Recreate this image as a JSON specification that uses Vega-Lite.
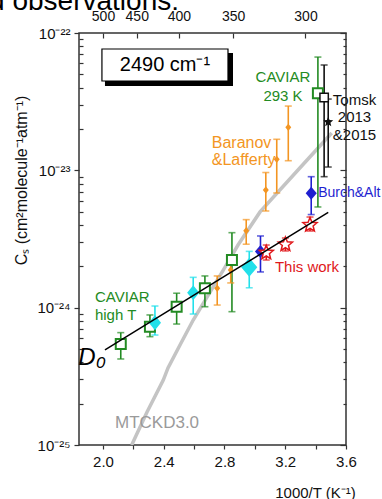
{
 "$schema": "https://vega.github.io/schema/vega-lite/v6.json",
 "width": 267, "height": 412,
 "autosize": {"type": "none"},
 "padding": {"left": 79, "top": 33, "right": 36, "bottom": 54},
 "config": {
  "font": "Liberation Sans",
  "view": {"stroke": "#333", "strokeWidth": 1.5},
  "axis": {"grid": false, "domain": false, "tickColor": "#333", "tickWidth": 1.2, "labelColor": "#111", "titleColor": "#111", "labelFont": "Liberation Sans", "titleFont": "Liberation Sans", "titleFontWeight": "normal", "labelFlush": false, "labelOverlap": false}
 },
 "datasets": {
  "mtckd": [
   {"x": 2.189, "y": 1.0e-25}, {"x": 2.29, "y": 1.74e-25}, {"x": 2.397, "y": 2.97e-25}, {"x": 2.428, "y": 3.64e-25},
   {"x": 2.507, "y": 5.35e-25}, {"x": 2.594, "y": 8.13e-25}, {"x": 2.792, "y": 1.879e-24}, {"x": 2.889, "y": 2.858e-24},
   {"x": 3.034, "y": 4.98e-24}, {"x": 3.284, "y": 1.005e-23}, {"x": 3.506, "y": 1.871e-23}
  ],
  "d0": [{"x": 2.013, "y": 4.92e-25}, {"x": 3.483, "y": 4.94e-24}],
  "pts": [
   {"series": "CAVIAR", "x": 2.117, "y": 5.43e-25, "lo": 4.23e-25, "hi": 6.58e-25},
   {"series": "CAVIAR", "x": 2.309, "y": 7.26e-25, "lo": 6.15e-25, "hi": 8.85e-25},
   {"series": "CAVIAR", "x": 2.485, "y": 1.016e-24, "lo": 7.60e-25, "hi": 1.274e-24},
   {"series": "CAVIAR", "x": 2.671, "y": 1.384e-24, "lo": 1.016e-24, "hi": 1.702e-24},
   {"series": "CAVIAR", "x": 2.849, "y": 2.223e-24, "lo": 9.35e-25, "hi": 3.516e-24},
   {"series": "CAVIAR", "x": 3.415, "y": 3.64e-23, "lo": 5.41e-24, "hi": 6.68e-23},
   {"series": "Cyan A", "x": 2.342, "y": 7.78e-25, "lo": 6.32e-25, "hi": 1.028e-24},
   {"series": "Cyan A", "x": 2.594, "y": 1.285e-24, "lo": 8.99e-25, "hi": 1.663e-24},
   {"series": "Cyan B", "x": 2.963, "y": 1.968e-24, "lo": 1.396e-24, "hi": 2.570e-24},
   {"series": "Baranov&Lafferty", "x": 2.752, "y": 1.384e-24, "lo": 1.045e-24, "hi": 1.702e-24},
   {"series": "Baranov&Lafferty", "x": 2.841, "y": 1.879e-24, "lo": 1.514e-24, "hi": 2.301e-24},
   {"series": "Baranov&Lafferty", "x": 2.943, "y": 3.631e-24, "lo": 2.897e-24, "hi": 4.375e-24},
   {"series": "Baranov&Lafferty", "x": 3.072, "y": 7.194e-24, "lo": 5.058e-24, "hi": 9.64e-24},
   {"series": "Baranov&Lafferty", "x": 3.144, "y": 1.202e-23, "lo": 6.84e-24, "hi": 1.683e-23},
   {"series": "Baranov&Lafferty", "x": 3.220, "y": 2.056e-23, "lo": 1.175e-23, "hi": 2.938e-23},
   {"series": "Burch&Alt", "x": 3.037, "y": 2.564e-24, "lo": 1.820e-24, "hi": 3.327e-24},
   {"series": "Burch&Alt", "x": 3.371, "y": 6.81e-24, "lo": 4.764e-24, "hi": 8.99e-24},
   {"series": "This work", "x": 3.075, "y": 2.512e-24, "lo": 2.223e-24, "hi": 2.858e-24},
   {"series": "This work", "x": 3.201, "y": 2.884e-24, "lo": 2.588e-24, "hi": 3.214e-24},
   {"series": "This work", "x": 3.363, "y": 3.999e-24, "lo": 3.614e-24, "hi": 4.571e-24},
   {"series": "Tomsk 2013", "x": 3.456, "y": 3.388e-23, "lo": 8.99e-24, "hi": 5.848e-23},
   {"series": "Tomsk 2015", "x": 3.483, "y": 2.249e-23, "lo": 1.057e-23, "hi": 3.304e-23}
  ],
  "shadow": [{"x1": 2.013, "x2": 2.856, "y1": 4.11e-23, "y2": 7.14e-23}],
  "box": [{"x1": 1.993, "x2": 2.823, "y1": 4.47e-23, "y2": 7.65e-23, "x": 2.408, "y": 5.85e-23, "text": "2490 cm⁻¹"}],
  "headline": [{"text": "and observations:", "x": 1.045, "y": 1.47e-22}],
  "labels14": [
   {"text": "CAVIAR", "series": "CAVIAR", "x": 1.947, "y": 1.197e-24},
   {"text": "high T", "series": "CAVIAR", "x": 1.947, "y": 8.85e-25},
   {"text": "This work", "series": "This work", "x": 3.132, "y": 1.986e-24}
  ],
  "labels15": [
   {"text": "Baranov", "series": "Baranov&Lafferty", "x": 2.716, "y": 1.589e-23},
   {"text": "&Lafferty", "series": "Baranov&Lafferty", "x": 2.716, "y": 1.189e-23}
  ],
  "labels13": [
   {"text": "Burch&Alt", "series": "Burch&Alt", "x": 3.417, "y": 6.81e-24}
  ],
  "labels17": [
   {"text": "MTCKD3.0", "series": "MTCKD3.0", "x": 2.079, "y": 1.435e-25}
  ],
  "labelsC": [
   {"text": "CAVIAR", "series": "CAVIAR", "x": 3.185, "y": 4.81e-23},
   {"text": "293 K", "series": "CAVIAR", "x": 3.185, "y": 3.49e-23},
   {"text": "Tomsk", "series": "Tomsk 2013", "x": 3.656, "y": 3.25e-23},
   {"text": "2013", "series": "Tomsk 2013", "x": 3.656, "y": 2.43e-23},
   {"text": "&2015", "series": "Tomsk 2013", "x": 3.656, "y": 1.807e-23}
  ],
  "d0label": [{"text": "D₀", "x": 1.928, "y": 4.30e-25}]
 },
 "resolve": {"axis": {"x": "independent", "y": "independent"}},
 "layer": [
  {
   "data": {"name": "mtckd"},
   "mark": {"type": "line", "stroke": "#c4c4c4", "strokeWidth": 3.5, "clip": true},
   "encoding": {
    "x": {"field": "x", "type": "quantitative", "scale": {"domain": [1.842, 3.6], "nice": false, "zero": false},
     "axis": {"orient": "bottom", "values": [2.0, 2.2, 2.4, 2.6, 2.8, 3.0, 3.2, 3.4, 3.6], "labelExpr": "round(datum.value*10) % 4 == 0 ? format(datum.value,'.1f') : ''", "tickSize": 4, "labelPadding": 5, "labelFontSize": 15, "title": "1000/T (K⁻¹)", "titleFontSize": 15, "titleX": 236, "titleY": 40, "titleAlign": "center", "titleBaseline": "top"}},
    "y": {"field": "y", "type": "quantitative", "scale": {"type": "log", "domain": [1e-25, 1e-22], "nice": false},
     "axis": {"orient": "left", "values": [1e-25, 1e-24, 1e-23, 1e-22], "labelExpr": "datum.value > 5e-23 ? '10⁻²²' : datum.value > 5e-24 ? '10⁻²³' : datum.value > 5e-25 ? '10⁻²⁴' : '10⁻²⁵'", "tickSize": 5, "labelPadding": 4, "labelFontSize": 15, "title": "Cₛ (cm²molecule⁻¹atm⁻¹)", "titleFontSize": 16, "titleX": -50, "titleY": 147, "titleAlign": "center"}}
   }
  },
  {
   "data": {"name": "mtckd"},
   "mark": {"type": "point", "opacity": 0},
   "encoding": {
    "x": {"field": "x", "type": "quantitative", "scale": {"domain": [1.842, 3.6], "nice": false, "zero": false},
     "axis": {"orient": "top", "values": [2.0, 2.2222, 2.5, 2.8571, 3.3333], "labelExpr": "format(1000/datum.value,'.0f')", "tickSize": -5, "labelPadding": 15, "labelFontSize": 14, "title": null}},
    "y": {"field": "y", "type": "quantitative", "scale": {"type": "log", "domain": [1e-25, 1e-22], "nice": false},
     "axis": {"orient": "left", "values": [2e-25, 3e-25, 4e-25, 5e-25, 6e-25, 7e-25, 8e-25, 9e-25, 2e-24, 3e-24, 4e-24, 5e-24, 6e-24, 7e-24, 8e-24, 9e-24, 2e-23, 3e-23, 4e-23, 5e-23, 6e-23, 7e-23, 8e-23, 9e-23], "tickSize": -4, "labels": false, "title": null}}
   }
  },
  {
   "data": {"name": "mtckd"},
   "mark": {"type": "point", "opacity": 0},
   "encoding": {
    "x": {"field": "x", "type": "quantitative", "scale": {"domain": [1.842, 3.6], "nice": false, "zero": false}, "axis": null},
    "y": {"field": "y", "type": "quantitative", "scale": {"type": "log", "domain": [1e-25, 1e-22], "nice": false},
     "axis": {"orient": "right", "values": [1e-25, 1e-24, 1e-23, 1e-22], "tickSize": -6, "labels": false, "title": null}}
   }
  },
  {
   "data": {"name": "mtckd"},
   "mark": {"type": "point", "opacity": 0},
   "encoding": {
    "x": {"field": "x", "type": "quantitative", "scale": {"domain": [1.842, 3.6], "nice": false, "zero": false}, "axis": null},
    "y": {"field": "y", "type": "quantitative", "scale": {"type": "log", "domain": [1e-25, 1e-22], "nice": false},
     "axis": {"orient": "right", "values": [2e-25, 3e-25, 4e-25, 5e-25, 6e-25, 7e-25, 8e-25, 9e-25, 2e-24, 3e-24, 4e-24, 5e-24, 6e-24, 7e-24, 8e-24, 9e-24, 2e-23, 3e-23, 4e-23, 5e-23, 6e-23, 7e-23, 8e-23, 9e-23], "tickSize": -3, "labels": false, "title": null}}
   }
  },
  {
   "data": {"name": "headline"},
   "mark": {"type": "text", "fontSize": 28, "color": "#000", "align": "left", "baseline": "alphabetic"},
   "encoding": {
    "x": {"field": "x", "type": "quantitative", "scale": {"domain": [1.842, 3.6], "nice": false, "zero": false}, "axis": null},
    "y": {"field": "y", "type": "quantitative", "scale": {"type": "log", "domain": [1e-25, 1e-22], "nice": false}, "axis": null},
    "text": {"field": "text"}
   }
  },
  {
   "data": {"name": "shadow"},
   "mark": {"type": "rect", "fill": "#000"},
   "encoding": {
    "x": {"field": "x1", "type": "quantitative", "scale": {"domain": [1.842, 3.6], "nice": false, "zero": false}, "axis": null},
    "x2": {"field": "x2"},
    "y": {"field": "y1", "type": "quantitative", "scale": {"type": "log", "domain": [1e-25, 1e-22], "nice": false}, "axis": null},
    "y2": {"field": "y2"}
   }
  },
  {
   "data": {"name": "box"},
   "mark": {"type": "rect", "fill": "#fff", "stroke": "#000", "strokeWidth": 1.2},
   "encoding": {
    "x": {"field": "x1", "type": "quantitative", "scale": {"domain": [1.842, 3.6], "nice": false, "zero": false}, "axis": null},
    "x2": {"field": "x2"},
    "y": {"field": "y1", "type": "quantitative", "scale": {"type": "log", "domain": [1e-25, 1e-22], "nice": false}, "axis": null},
    "y2": {"field": "y2"}
   }
  },
  {
   "data": {"name": "box"},
   "mark": {"type": "text", "fontSize": 20, "color": "#000", "baseline": "middle", "align": "center"},
   "encoding": {
    "x": {"field": "x", "type": "quantitative", "scale": {"domain": [1.842, 3.6], "nice": false, "zero": false}, "axis": null},
    "y": {"field": "y", "type": "quantitative", "scale": {"type": "log", "domain": [1e-25, 1e-22], "nice": false}, "axis": null},
    "text": {"field": "text"}
   }
  },
  {
   "data": {"name": "pts"},
   "mark": {"type": "rule", "strokeWidth": 1.6},
   "encoding": {
    "x": {"field": "x", "type": "quantitative", "scale": {"domain": [1.842, 3.6], "nice": false, "zero": false}, "axis": null},
    "y": {"field": "lo", "type": "quantitative", "scale": {"type": "log", "domain": [1e-25, 1e-22], "nice": false}, "axis": null},
    "y2": {"field": "hi"},
    "color": {"field": "series", "type": "nominal", "legend": null, "scale": {"domain": ["CAVIAR", "Cyan A", "Cyan B", "Baranov&Lafferty", "Burch&Alt", "This work", "Tomsk 2013", "Tomsk 2015", "MTCKD3.0"], "range": ["#238b23", "#22e0ea", "#22e0ea", "#f39522", "#1f1fd0", "#e0181b", "#111111", "#111111", "#9a9a9a"]}}
   }
  },
  {
   "data": {"name": "pts"},
   "mark": {"type": "tick", "orient": "horizontal", "size": 7, "thickness": 1.6},
   "encoding": {
    "x": {"field": "x", "type": "quantitative", "scale": {"domain": [1.842, 3.6], "nice": false, "zero": false}, "axis": null},
    "y": {"field": "lo", "type": "quantitative", "scale": {"type": "log", "domain": [1e-25, 1e-22], "nice": false}, "axis": null},
    "color": {"field": "series", "type": "nominal", "legend": null}
   }
  },
  {
   "data": {"name": "pts"},
   "mark": {"type": "tick", "orient": "horizontal", "size": 7, "thickness": 1.6},
   "encoding": {
    "x": {"field": "x", "type": "quantitative", "scale": {"domain": [1.842, 3.6], "nice": false, "zero": false}, "axis": null},
    "y": {"field": "hi", "type": "quantitative", "scale": {"type": "log", "domain": [1e-25, 1e-22], "nice": false}, "axis": null},
    "color": {"field": "series", "type": "nominal", "legend": null}
   }
  },
  {
   "data": {"name": "pts"},
   "transform": [{"filter": {"field": "series", "equal": "CAVIAR"}}],
   "mark": {"type": "point", "shape": "square", "size": 100, "filled": true, "fill": "#fff", "stroke": "#238b23", "strokeWidth": 2, "opacity": 1},
   "encoding": {
    "x": {"field": "x", "type": "quantitative", "scale": {"domain": [1.842, 3.6], "nice": false, "zero": false}, "axis": null},
    "y": {"field": "y", "type": "quantitative", "scale": {"type": "log", "domain": [1e-25, 1e-22], "nice": false}, "axis": null}
   }
  },
  {
   "data": {"name": "pts"},
   "transform": [{"filter": {"field": "series", "equal": "Cyan A"}}],
   "mark": {"type": "point", "shape": "M0,-1L0.8,0L0,1L-0.8,0Z", "size": 230, "filled": true, "fill": "#22e0ea", "strokeWidth": 0, "opacity": 1},
   "encoding": {
    "x": {"field": "x", "type": "quantitative", "scale": {"domain": [1.842, 3.6], "nice": false, "zero": false}, "axis": null},
    "y": {"field": "y", "type": "quantitative", "scale": {"type": "log", "domain": [1e-25, 1e-22], "nice": false}, "axis": null}
   }
  },
  {
   "data": {"name": "pts"},
   "transform": [{"filter": {"field": "series", "equal": "Cyan B"}}],
   "mark": {"type": "point", "shape": "M0,-1L0.85,0L0,1L-0.85,0Z", "size": 360, "filled": true, "fill": "#22e0ea", "strokeWidth": 0, "opacity": 1},
   "encoding": {
    "x": {"field": "x", "type": "quantitative", "scale": {"domain": [1.842, 3.6], "nice": false, "zero": false}, "axis": null},
    "y": {"field": "y", "type": "quantitative", "scale": {"type": "log", "domain": [1e-25, 1e-22], "nice": false}, "axis": null}
   }
  },
  {
   "data": {"name": "pts"},
   "transform": [{"filter": {"field": "series", "equal": "Baranov&Lafferty"}}],
   "mark": {"type": "point", "shape": "M0,-1L0.8,0L0,1L-0.8,0Z", "size": 55, "filled": true, "fill": "#f39522", "strokeWidth": 0, "opacity": 1},
   "encoding": {
    "x": {"field": "x", "type": "quantitative", "scale": {"domain": [1.842, 3.6], "nice": false, "zero": false}, "axis": null},
    "y": {"field": "y", "type": "quantitative", "scale": {"type": "log", "domain": [1e-25, 1e-22], "nice": false}, "axis": null}
   }
  },
  {
   "data": {"name": "pts"},
   "transform": [{"filter": {"field": "series", "equal": "Burch&Alt"}}],
   "mark": {"type": "point", "shape": "M0,-1L0.85,0L0,1L-0.85,0Z", "size": 170, "filled": true, "fill": "#1f1fd0", "strokeWidth": 0, "opacity": 1},
   "encoding": {
    "x": {"field": "x", "type": "quantitative", "scale": {"domain": [1.842, 3.6], "nice": false, "zero": false}, "axis": null},
    "y": {"field": "y", "type": "quantitative", "scale": {"type": "log", "domain": [1e-25, 1e-22], "nice": false}, "axis": null}
   }
  },
  {
   "data": {"name": "pts"},
   "transform": [{"filter": {"field": "series", "equal": "This work"}}],
   "mark": {"type": "point", "shape": "M0,-1L0.26,-0.36L0.951,-0.309L0.42,0.137L0.588,0.809L0,0.44L-0.588,0.809L-0.42,0.137L-0.951,-0.309L-0.26,-0.36Z", "size": 220, "filled": true, "fill": "#fff", "stroke": "#e0181b", "strokeWidth": 1.5, "opacity": 1},
   "encoding": {
    "x": {"field": "x", "type": "quantitative", "scale": {"domain": [1.842, 3.6], "nice": false, "zero": false}, "axis": null},
    "y": {"field": "y", "type": "quantitative", "scale": {"type": "log", "domain": [1e-25, 1e-22], "nice": false}, "axis": null}
   }
  },
  {
   "data": {"name": "pts"},
   "transform": [{"filter": {"field": "series", "equal": "Tomsk 2013"}}],
   "mark": {"type": "point", "shape": "square", "size": 70, "filled": true, "fill": "#fff", "stroke": "#111", "strokeWidth": 1.5, "opacity": 1},
   "encoding": {
    "x": {"field": "x", "type": "quantitative", "scale": {"domain": [1.842, 3.6], "nice": false, "zero": false}, "axis": null},
    "y": {"field": "y", "type": "quantitative", "scale": {"type": "log", "domain": [1e-25, 1e-22], "nice": false}, "axis": null}
   }
  },
  {
   "data": {"name": "pts"},
   "transform": [{"filter": {"field": "series", "equal": "Tomsk 2015"}}],
   "mark": {"type": "point", "shape": "M0,-1L0.26,-0.36L0.951,-0.309L0.42,0.137L0.588,0.809L0,0.44L-0.588,0.809L-0.42,0.137L-0.951,-0.309L-0.26,-0.36Z", "size": 110, "filled": true, "fill": "#111", "strokeWidth": 0, "opacity": 1},
   "encoding": {
    "x": {"field": "x", "type": "quantitative", "scale": {"domain": [1.842, 3.6], "nice": false, "zero": false}, "axis": null},
    "y": {"field": "y", "type": "quantitative", "scale": {"type": "log", "domain": [1e-25, 1e-22], "nice": false}, "axis": null}
   }
  },
  {
   "data": {"name": "d0"},
   "mark": {"type": "line", "stroke": "#000", "strokeWidth": 1.5},
   "encoding": {
    "x": {"field": "x", "type": "quantitative", "scale": {"domain": [1.842, 3.6], "nice": false, "zero": false}, "axis": null},
    "y": {"field": "y", "type": "quantitative", "scale": {"type": "log", "domain": [1e-25, 1e-22], "nice": false}, "axis": null}
   }
  },
  {
   "data": {"name": "labels14"},
   "mark": {"type": "text", "fontSize": 15, "align": "left", "baseline": "middle"},
   "encoding": {
    "x": {"field": "x", "type": "quantitative", "scale": {"domain": [1.842, 3.6], "nice": false, "zero": false}, "axis": null},
    "y": {"field": "y", "type": "quantitative", "scale": {"type": "log", "domain": [1e-25, 1e-22], "nice": false}, "axis": null},
    "text": {"field": "text"},
    "color": {"field": "series", "type": "nominal", "legend": null}
   }
  },
  {
   "data": {"name": "labels15"},
   "mark": {"type": "text", "fontSize": 16, "align": "left", "baseline": "middle"},
   "encoding": {
    "x": {"field": "x", "type": "quantitative", "scale": {"domain": [1.842, 3.6], "nice": false, "zero": false}, "axis": null},
    "y": {"field": "y", "type": "quantitative", "scale": {"type": "log", "domain": [1e-25, 1e-22], "nice": false}, "axis": null},
    "text": {"field": "text"},
    "color": {"field": "series", "type": "nominal", "legend": null}
   }
  },
  {
   "data": {"name": "labels13"},
   "mark": {"type": "text", "fontSize": 14, "align": "left", "baseline": "middle"},
   "encoding": {
    "x": {"field": "x", "type": "quantitative", "scale": {"domain": [1.842, 3.6], "nice": false, "zero": false}, "axis": null},
    "y": {"field": "y", "type": "quantitative", "scale": {"type": "log", "domain": [1e-25, 1e-22], "nice": false}, "axis": null},
    "text": {"field": "text"},
    "color": {"field": "series", "type": "nominal", "legend": null}
   }
  },
  {
   "data": {"name": "labels17"},
   "mark": {"type": "text", "fontSize": 17, "align": "left", "baseline": "middle"},
   "encoding": {
    "x": {"field": "x", "type": "quantitative", "scale": {"domain": [1.842, 3.6], "nice": false, "zero": false}, "axis": null},
    "y": {"field": "y", "type": "quantitative", "scale": {"type": "log", "domain": [1e-25, 1e-22], "nice": false}, "axis": null},
    "text": {"field": "text"},
    "color": {"field": "series", "type": "nominal", "legend": null}
   }
  },
  {
   "data": {"name": "labelsC"},
   "mark": {"type": "text", "fontSize": 15, "align": "center", "baseline": "middle"},
   "encoding": {
    "x": {"field": "x", "type": "quantitative", "scale": {"domain": [1.842, 3.6], "nice": false, "zero": false}, "axis": null},
    "y": {"field": "y", "type": "quantitative", "scale": {"type": "log", "domain": [1e-25, 1e-22], "nice": false}, "axis": null},
    "text": {"field": "text"},
    "color": {"field": "series", "type": "nominal", "legend": null}
   }
  },
  {
   "data": {"name": "d0label"},
   "mark": {"type": "text", "fontSize": 24, "fontStyle": "italic", "align": "center", "baseline": "middle", "color": "#000"},
   "encoding": {
    "x": {"field": "x", "type": "quantitative", "scale": {"domain": [1.842, 3.6], "nice": false, "zero": false}, "axis": null},
    "y": {"field": "y", "type": "quantitative", "scale": {"type": "log", "domain": [1e-25, 1e-22], "nice": false}, "axis": null},
    "text": {"field": "text"}
   }
  }
 ]
}
